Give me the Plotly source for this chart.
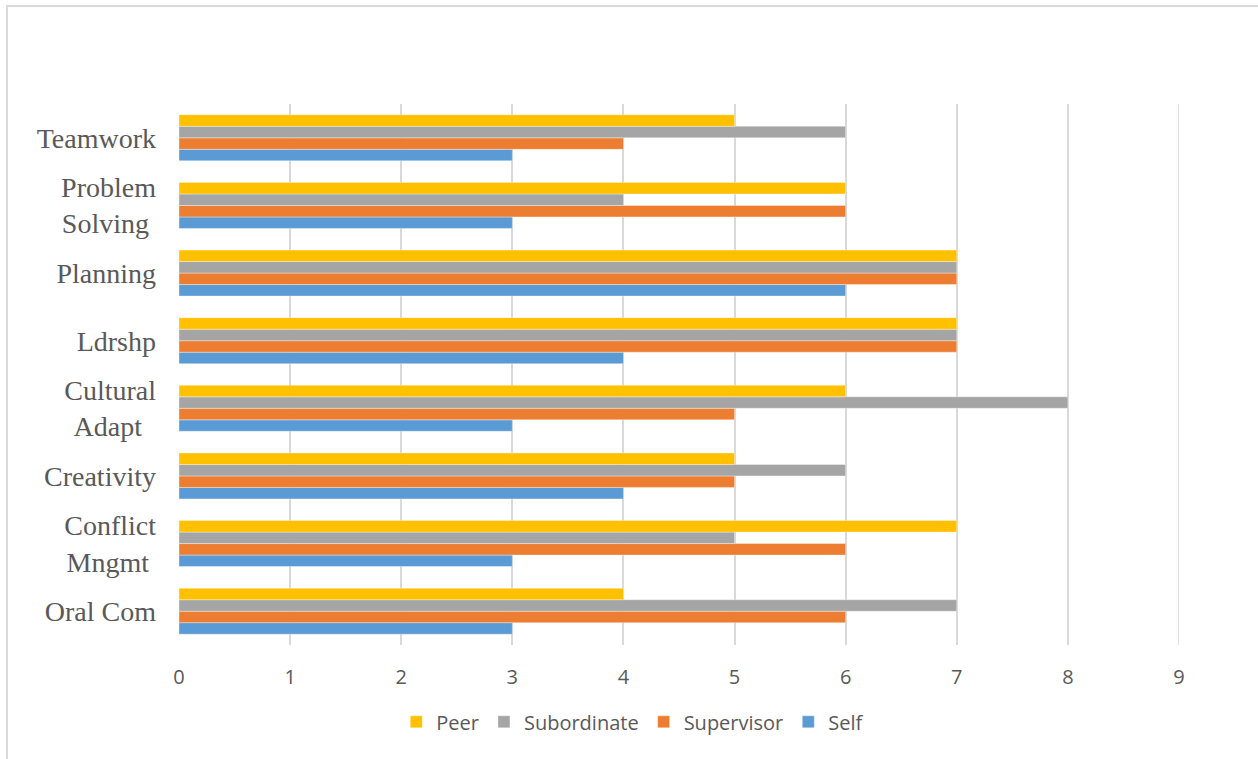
import plotly.graph_objects as go

categories = ["Oral Com", "Conflict Mngmt", "Creativity", "Cultural Adapt",
              "Ldrshp", "Planning", "Problem Solving", "Teamwork"]
tick_labels = ["Oral Com", "Conflict<br>Mngmt\u00a0", "Creativity", "Cultural<br>Adapt\u00a0\u00a0",
               "Ldrshp", "Planning", "Problem<br>Solving\u00a0", "Teamwork"]

self_vals = [3, 3, 4, 3, 4, 6, 3, 3]
supervisor_vals = [6, 6, 5, 5, 7, 7, 6, 4]
subordinate_vals = [7, 5, 6, 8, 7, 7, 4, 6]
peer_vals = [4, 7, 5, 6, 7, 7, 6, 5]

x_ticks = list(range(0, 10))
x_max = 9

series = [
    ("Self", self_vals, "#5B9BD5"),
    ("Supervisor", supervisor_vals, "#ED7D31"),
    ("Subordinate", subordinate_vals, "#A5A5A5"),
    ("Peer", peer_vals, "#FFC000"),
]

fig = go.Figure()
for name, vals, color in series:
    fig.add_trace(go.Bar(
        y=categories, x=vals, name=name, orientation="h",
        marker=dict(color=color, line=dict(color="rgba(255,255,255,0.6)", width=0.6)),
    ))

fig.update_layout(
    width=1258, height=759,
    margin=dict(l=179, r=79, t=104, b=114),
    paper_bgcolor="white", plot_bgcolor="white",
    barmode="group", bargap=0.32, bargroupgap=0,
    showlegend=True,
    legend=dict(orientation="h", traceorder="reversed",
                xref="container", yref="container",
                x=0.503, xanchor="center", y=0.049, yanchor="middle",
                font=dict(family="Open Sans", size=20, color="#595959"),
                itemwidth=30),
    xaxis=dict(range=[0, x_max], tickvals=x_ticks, showgrid=True, gridcolor="#d9d9d9",
               gridwidth=1.5, zeroline=False, showline=False, ticks="",
               tickfont=dict(family="Open Sans", size=20, color="#595959"),
               ticklabelstandoff=18),
    yaxis=dict(categoryorder="array", categoryarray=categories,
               tickvals=categories, ticktext=tick_labels,
               showgrid=False, zeroline=False, showline=False, ticks="",
               tickfont=dict(family="Liberation Serif", size=28, color="#595959"),
               ticklabelstandoff=22),
    shapes=[
        dict(type="rect", xref="paper", yref="paper",
             x0=-0.172, x1=1.2, y0=-0.3, y1=1.1811,
             line=dict(color="#d9d9d9", width=2), layer="below"),
        dict(type="line", xref="x", yref="paper", x0=x_max, x1=x_max, y0=0, y1=1,
             line=dict(color="#d9d9d9", width=1.5), layer="below"),
    ],
)

fig.write_html("out.html")
